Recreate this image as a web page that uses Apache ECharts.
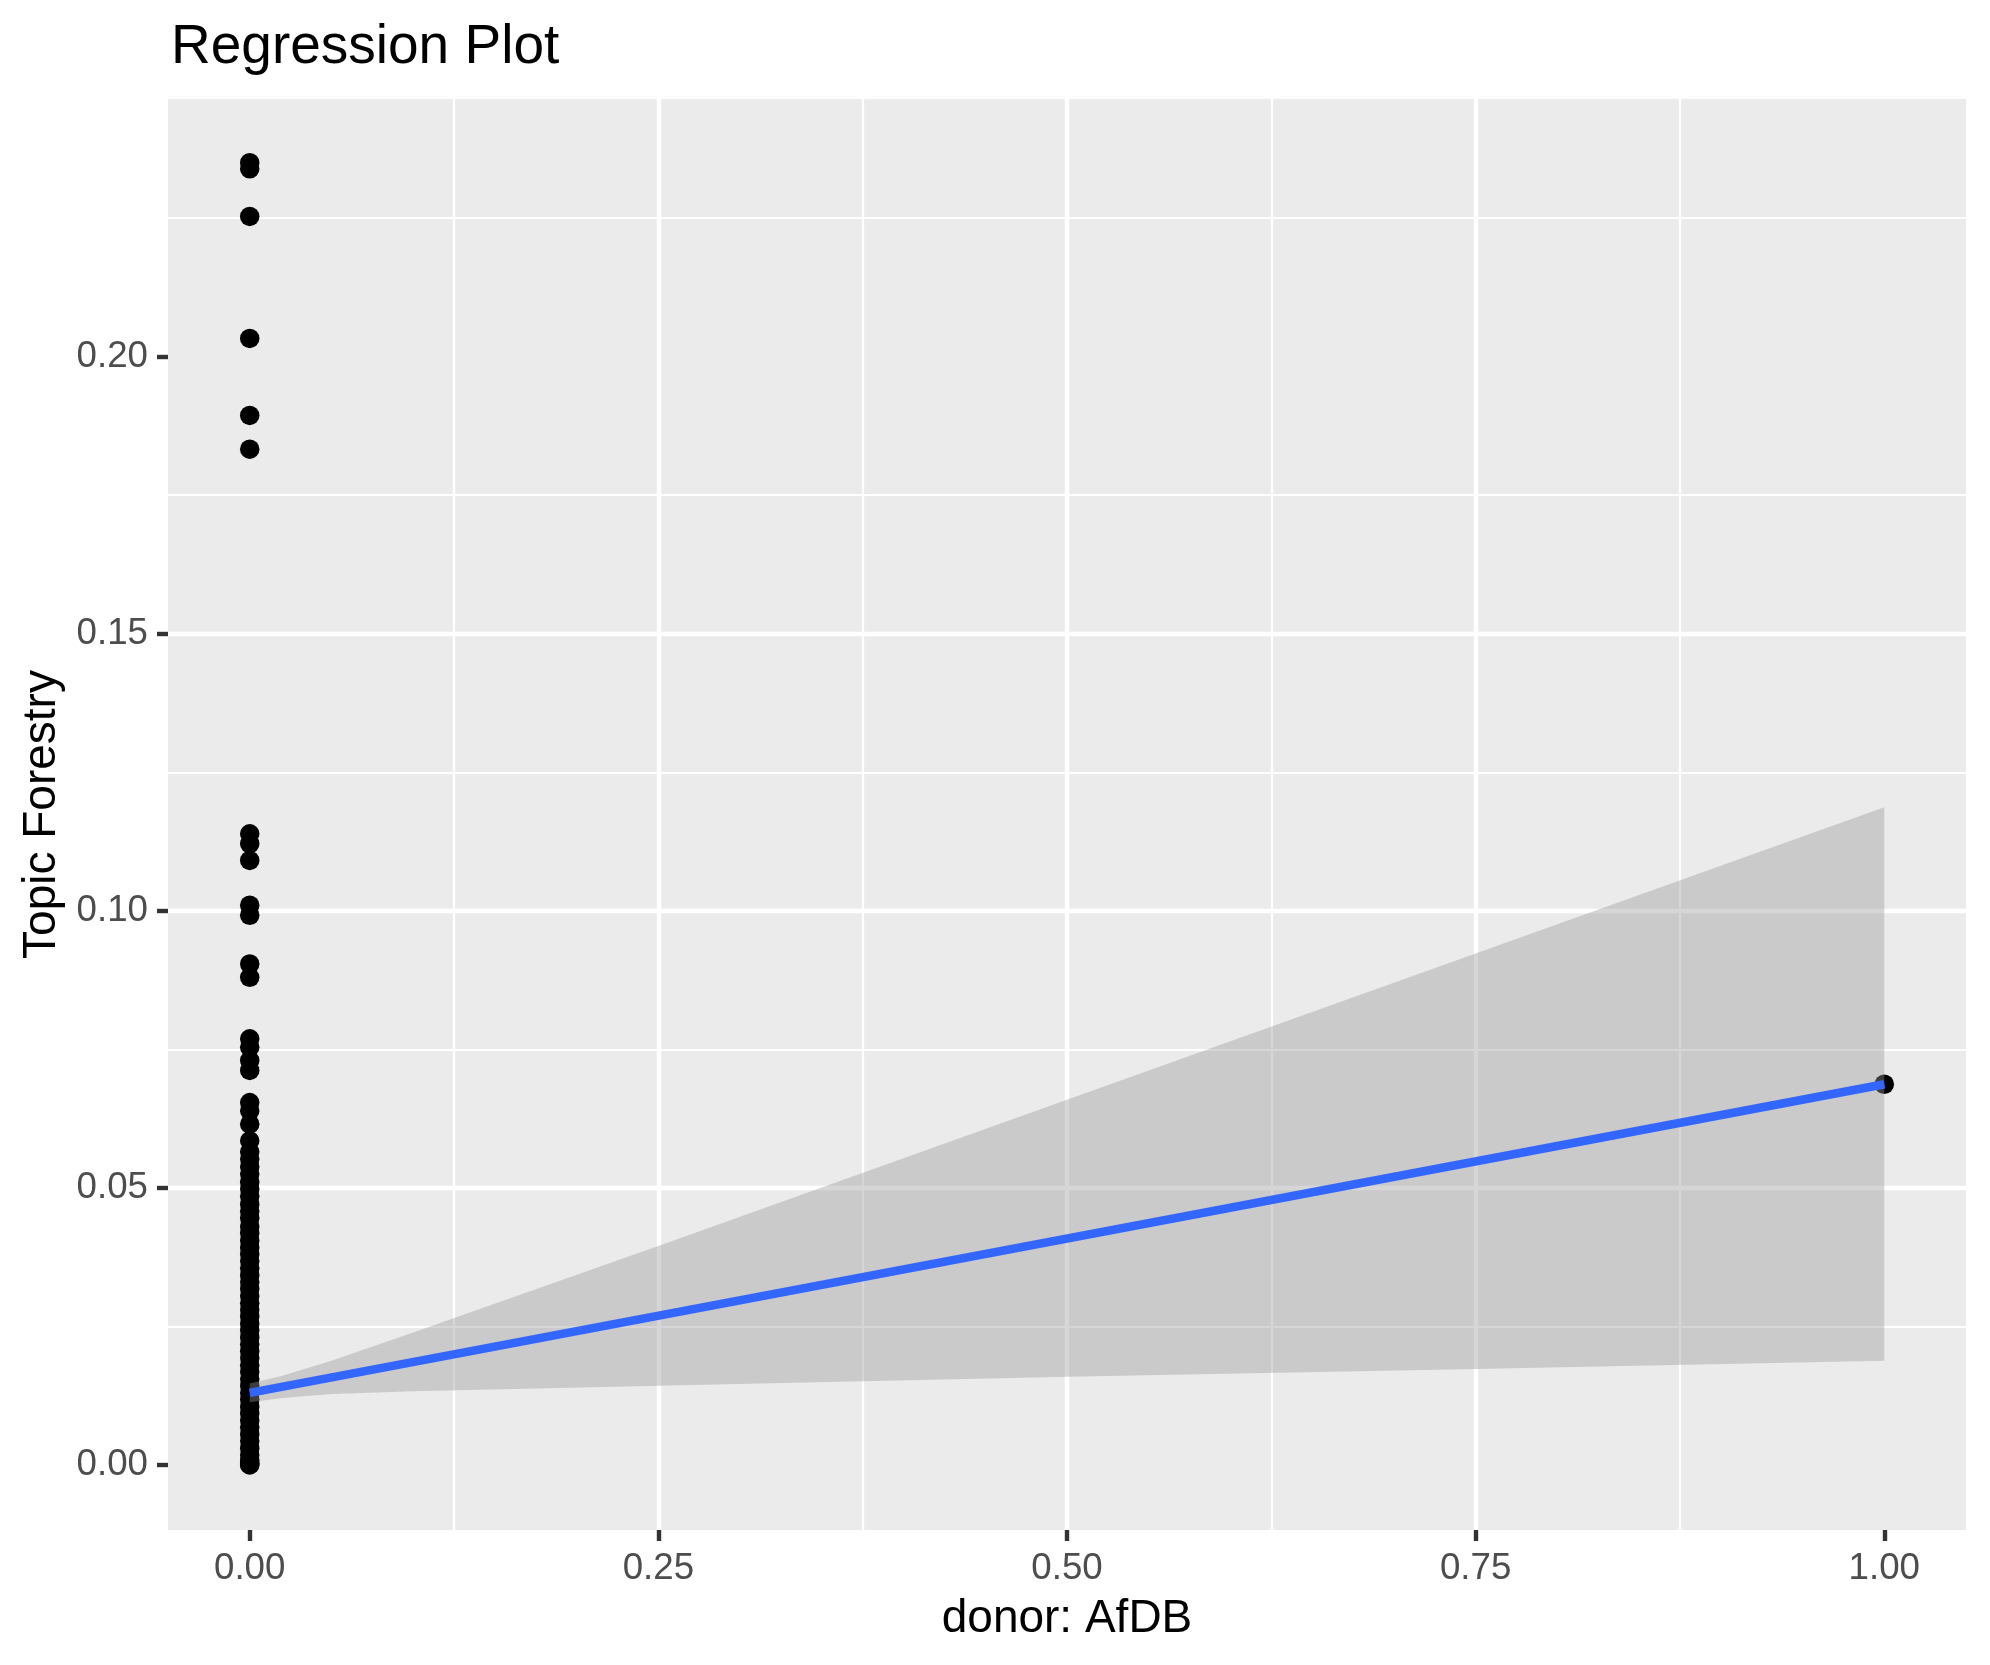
<!DOCTYPE html>
<html>
<head>
<meta charset="utf-8">
<script src="https://cdn.jsdelivr.net/npm/echarts@6/dist/echarts.min.js"></script>
<style>
  html, body { margin: 0; padding: 0; background: #ffffff; }
  #chart { width: 1990px; height: 1665px; }
</style>
</head>
<body>
<div id="chart"></div>
<script>
// ---- Data ----
const titleText = 'Regression Plot';
const xAxisTitle = 'donor: AfDB';
const yAxisTitle = 'Topic Forestry';

const xTicks = [0, 0.25, 0.5, 0.75, 1];
const yTicks = [0, 0.05, 0.10, 0.15, 0.20];

// Observations with donor AfDB = 0 (y values)
const yAtZero = [
  0.2350, 0.2339, 0.2253, 0.2033, 0.1894, 0.1833,
  0.1139, 0.1121, 0.1091, 0.1010, 0.0992, 0.0904, 0.0880,
  0.0769, 0.0754, 0.0730, 0.0712, 0.0654, 0.0639, 0.0615, 0.0585,
  0.0565, 0.0552, 0.0538, 0.0525, 0.0510, 0.0498, 0.0485, 0.0470,
  0.0458, 0.0445, 0.0430, 0.0418, 0.0405, 0.0392, 0.0380, 0.0368,
  0.0355, 0.0342, 0.0330, 0.0318, 0.0305, 0.0292, 0.0280, 0.0268,
  0.0255, 0.0243, 0.0230, 0.0218, 0.0205, 0.0193, 0.0180, 0.0168,
  0.0155, 0.0143, 0.0130, 0.0118, 0.0105, 0.0093, 0.0080, 0.0068,
  0.0055, 0.0043, 0.0030, 0.0018, 0.0008, 0.0003, 0.0001, 0.0000
];
// Observations with donor AfDB = 1 (y values)
const yAtOne = [0.0687];

// Fitted regression line (endpoints)
const fitX = [0, 1];
const fitY = [0.0130, 0.0687];

// Confidence band read along x
const bandX     = [0,      0.02,   0.05,   0.10,   0.25,   0.50,   0.75,   1.00];
const bandLower = [0.0113, 0.0121, 0.0128, 0.0133, 0.0143, 0.0159, 0.0173, 0.0188];
const bandUpper = [0.0147, 0.0161, 0.0188, 0.0239, 0.0395, 0.0659, 0.0923, 0.1187];

// ---- Build chart ----
const FONT = "'Liberation Sans', Arial, Helvetica, sans-serif";
const pointData = yAtZero.map(v => [0, v]).concat(yAtOne.map(v => [1, v]));
const fitData = fitX.map((x, i) => [x, fitY[i]]);

const chart = echarts.init(document.getElementById('chart'), null, { renderer: 'canvas' });

const axisCommon = {
  type: 'value',
  axisLine: { show: false, onZero: false },
  axisTick: { show: true, length: 11, lineStyle: { color: '#333333', width: 4.4 } },
  splitLine: { show: true, showMinLine: false, showMaxLine: false, lineStyle: { color: '#ffffff', width: 4.4 } },
  minorTick: { show: false, splitNumber: 2 },
  minorSplitLine: { show: true, lineStyle: { color: '#ffffff', width: 2.2 } },
  nameTextStyle: { fontFamily: FONT, fontSize: 46, color: '#000000' }
};

const option = {
  animation: false,
  backgroundColor: '#ffffff',
  title: {
    text: titleText,
    left: 166,
    top: 15,
    textStyle: { fontFamily: FONT, fontSize: 55, fontWeight: 'normal', color: '#000000' }
  },
  grid: {
    left: 168, right: 24, top: 99, bottom: 135,
    show: true, backgroundColor: '#EBEBEB', borderWidth: 0,
    containLabel: false
  },
  xAxis: Object.assign({}, axisCommon, {
    min: -0.05, max: 1.05,
    minInterval: 0.25, maxInterval: 0.25, splitNumber: 4,
    axisTick: Object.assign({}, axisCommon.axisTick, { customValues: xTicks }),
    axisLabel: {
      customValues: xTicks,
      formatter: v => v.toFixed(2),
      fontFamily: FONT, fontSize: 36.7, color: '#4D4D4D', margin: 20
    },
    name: xAxisTitle, nameLocation: 'middle', nameGap: 66
  }),
  yAxis: Object.assign({}, axisCommon, {
    min: -0.01174, max: 0.2465,
    minInterval: 0.05, maxInterval: 0.05, splitNumber: 5,
    axisTick: Object.assign({}, axisCommon.axisTick, { customValues: yTicks }),
    axisLabel: {
      customValues: yTicks,
      formatter: v => v.toFixed(2),
      fontFamily: FONT, fontSize: 36.7, color: '#4D4D4D', margin: 20
    },
    name: yAxisTitle, nameLocation: 'middle', nameGap: 100, nameRotate: 90
  }),
  series: [
    {
      type: 'scatter',
      data: pointData,
      symbol: 'circle',
      symbolSize: 19.5,
      itemStyle: { color: '#000000', opacity: 1 },
      z: 2,
      silent: true
    },
    {
      type: 'custom',
      data: [[bandX[0], bandLower[0]]],
      encode: { x: 0, y: 1 },
      z: 3,
      silent: true,
      renderItem: function (params, api) {
        const pts = [];
        for (let i = 0; i < bandX.length; i++) pts.push(api.coord([bandX[i], bandUpper[i]]));
        for (let i = bandX.length - 1; i >= 0; i--) pts.push(api.coord([bandX[i], bandLower[i]]));
        return {
          type: 'polygon',
          shape: { points: pts },
          style: { fill: 'rgba(153,153,153,0.4)', stroke: null }
        };
      }
    },
    {
      type: 'line',
      data: fitData,
      showSymbol: false,
      symbol: 'none',
      lineStyle: { color: '#3366FF', width: 8.5 },
      z: 4,
      silent: true
    }
  ]
};

chart.setOption(option);
</script>
</body>
</html>
